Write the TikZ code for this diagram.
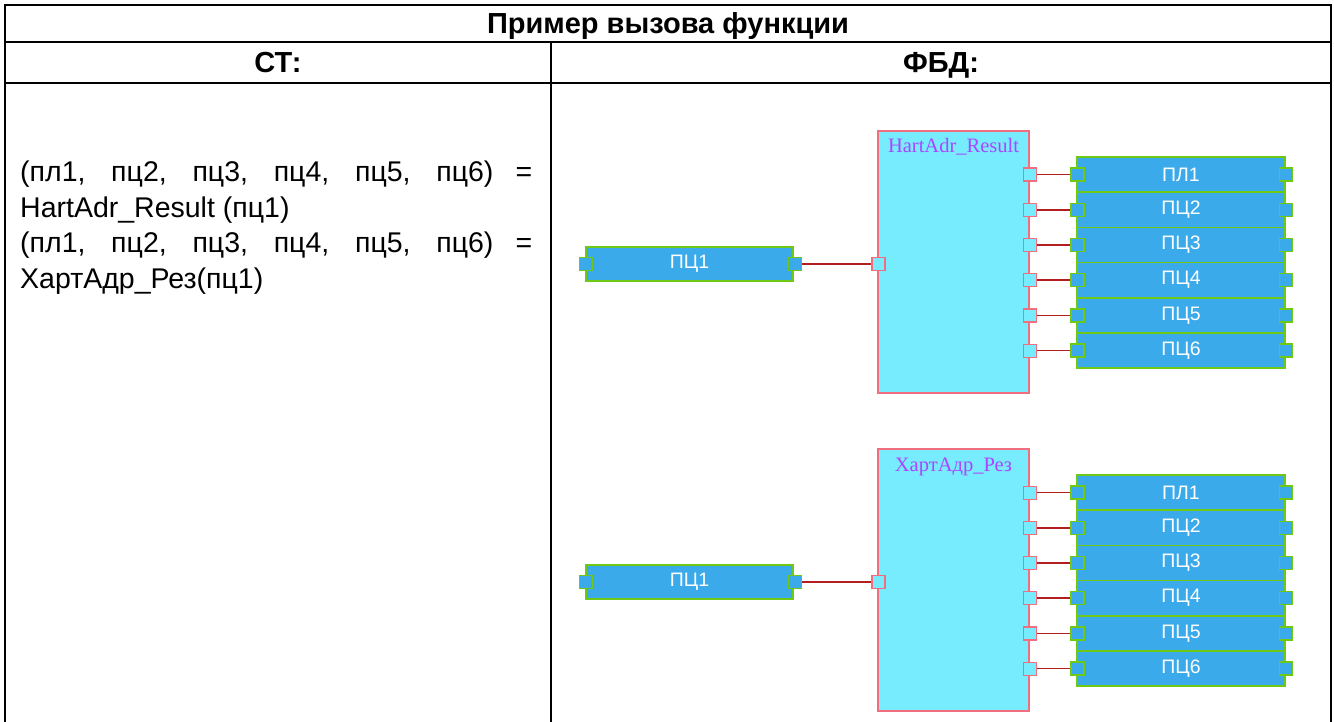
\documentclass[tikz,border=0pt]{standalone}
\usepackage{fontspec}
\setmainfont{Liberation Sans}
\newfontfamily\tmsfont{Liberation Serif}
\definecolor{boxblue}{RGB}{58,170,235}
\definecolor{boxgreen}{RGB}{110,200,20}
\definecolor{fcyan}{RGB}{120,236,255}
\definecolor{fpink}{RGB}{240,110,125}
\definecolor{wirered}{RGB}{180,30,30}
\definecolor{fpurple}{RGB}{170,70,255}
\begin{document}
\begin{tikzpicture}[x=1pt,y=-1pt,
  tline/.style={line width=2pt,black},
  valbox/.style={rectangle,draw=boxgreen,fill=boxblue,line width=1.6pt,minimum width=207pt,minimum height=34pt,inner sep=0pt,text=white,font=\fontsize{19.5}{22}\selectfont},
  outbox/.style={valbox,minimum width=208pt,minimum height=35.2pt},
  vport/.style={rectangle,draw=boxgreen,fill=boxblue,line width=1.5pt,minimum size=13pt,inner sep=0pt},
  fport/.style={rectangle,draw=fpink,fill=fcyan,line width=1.2pt,minimum size=13pt,inner sep=0pt},
  fblock/.style={rectangle,draw=fpink,fill=fcyan,line width=1.5pt,minimum width=151pt,minimum height=262pt,inner sep=0pt},
  wire/.style={draw=wirered,line width=1.6pt},
  hdr/.style={font=\bfseries\fontsize{29}{33}\selectfont,anchor=base,inner sep=0pt},
  code/.style={font=\fontsize{28.5}{32}\selectfont,anchor=base west,inner sep=0pt},
  ftitle/.style={font=\tmsfont\fontsize{20.5}{22}\selectfont,text=fpurple,anchor=base,inner sep=0pt}]
\useasboundingbox (0,0) rectangle (1334,722);
% table
\draw[tline] (5,722) -- (5,5) -- (1331,5) -- (1331,722);
\draw[tline] (5,42) -- (1331,42);
\draw[tline] (5,83) -- (1331,83);
\draw[tline] (551,42) -- (551,722);
\node[hdr] (title) at (668,34) {Пример вызова функции};
\node[hdr] (st) at (278,73) {СТ:};
\node[hdr] (fbd) at (941,73) {ФБД:};
% code text
\node[code] (l1) at (20,182) {\makebox[512pt][s]{(пл1, пц2, пц3, пц4, пц5, пц6) =}};
\node[code] (l2) at (20,217.5) {HartAdr\textunderscore Result (пц1)};
\node[code] (l3) at (20,253) {\makebox[512pt][s]{(пл1, пц2, пц3, пц4, пц5, пц6) =}};
\node[code] (l4) at (20,288.5) {ХартАдр\textunderscore Рез(пц1)};
% two diagrams
\foreach \b/\dy/\fname in {1/0/HartAdr\textunderscore Result, 2/318/ХартАдр\textunderscore Рез}{
  \begin{scope}[yshift=-\dy pt]
    \node[fblock] (f\b) at (953.5,262) {};
    \node[ftitle] (ft\b) at (953.5,153) {\fname};
    \node[valbox] (in\b) at (689.5,264) {ПЦ1};
    \node[vport] (inl\b) at (586,264) {};
    \node[vport] (inr\b) at (795,264) {};
    \node[fport] (fi\b) at (878.5,264) {};
    \draw[wire] (inr\b.east) -- (fi\b.west);
    \foreach \i/\lab in {1/ПЛ1,2/ПЦ2,3/ПЦ3,4/ПЦ4,5/ПЦ5,6/ПЦ6}{
      \node[outbox] (o\b\i) at (1181,{157+35.2*(\i-0.5)}) {\lab};
    }
    \foreach \i in {1,...,6}{
      \node[fport] (fo\b\i) at (1030,{157+35.2*(\i-0.5)}) {};
      \node[vport] (ol\b\i) at (1077.5,{157+35.2*(\i-0.5)}) {};
      \node[vport] (or\b\i) at (1286,{157+35.2*(\i-0.5)}) {};
      \draw[wire] (fo\b\i.east) -- (ol\b\i.west);
    }
  \end{scope}
}
\end{tikzpicture}
\end{document}
